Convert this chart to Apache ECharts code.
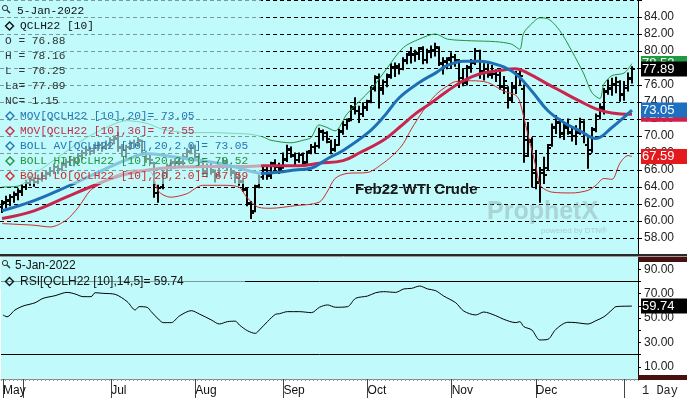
<!DOCTYPE html>
<html>
<head>
<meta charset="utf-8">
<script src="https://cdn.jsdelivr.net/npm/echarts@6/dist/echarts.min.js"></script>
<style>
html,body{margin:0;padding:0;background:#fff;}
#chart{width:687px;height:399px;}
</style>
</head>
<body>
<div id="chart"></div>
<script>
var BG = '#c0fafa';
var SANS = '"Liberation Sans", Arial, sans-serif';
var MONO = '"Liberation Mono", "Courier New", monospace';

// x axis: one slot per trading day, May 24 2021 .. Jan 5 2022, plus one empty slot
var slotCount = 159;
var monthIdx = [0, 5, 27, 48, 70, 91, 112, 133, 155];
var monthName = ['May', '', 'Jul', 'Aug', 'Sep', 'Oct', 'Nov', 'Dec', ''];
var priceTicks = [58, 84];   // first / last labelled price
var rsiLevels = [80, 20];

// daily bars (Feb22 WTI)
var opens = [61.6,62.1,62.4,62.8,63.1,
  63.4,64.0,64.5,64.8,64.6,65.0,65.3,65.6,65.9,66.3,
  66.1,66.6,66.9,67.2,67.0,67.6,68.0,68.4,68.2,68.6,68.9,68.7,
  69.0,69.5,69.8,68.7,68.3,68.7,69.2,69.0,69.4,68.0,67.3,
  66.8,63.3,64.0,65.6,66.5,66.9,66.9,66.9,67.5,68.2,
  68.6,67.5,66.9,65.8,66.4,65.8,65.4,66.6,67.0,66.4,65.6,65.2,
  64.7,63.6,62.0,61.2,64.1,65.2,66.0,65.4,66.8,66.4,
  66.4,67.3,68.4,67.7,67.2,67.8,66.9,68.2,68.7,68.8,70.5,
  70.3,69.3,68.5,69.0,70.6,71.3,72.0,73.4,73.0,72.6,
  73.3,74.1,75.6,77.0,75.4,76.3,77.2,78.0,78.0,77.9,78.9,
  79.8,79.5,79.7,80.3,79.0,80.0,80.1,80.3,78.5,78.8,
  79.2,79.3,78.8,76.8,76.3,78.1,78.6,80.0,77.6,77.9,
  77.3,77.3,77.2,75.8,75.6,74.5,75.8,77.3,75.5,69.5,69.5,
  66.0,64.5,66.0,66.2,69.0,71.0,71.6,70.3,71.2,70.4,70.0,70.5,
  71.6,69.0,68.3,70.8,72.4,73.2,75.3,75.5,76.0,76.3,75.0,75.7,76.88];
var highs = [62.4,62.9,63.1,63.4,63.8,
  64.2,64.8,65.2,65.1,65.4,65.7,65.9,66.3,66.7,66.6,
  66.9,67.3,67.6,67.5,67.9,68.3,68.8,68.7,69.0,69.3,69.2,69.4,
  69.8,70.0,70.4,69.0,68.9,69.4,69.5,69.8,69.5,68.2,67.8,
  66.9,64.2,65.9,66.7,67.2,67.3,67.4,67.8,68.5,69.0,
  68.9,67.9,67.2,66.7,66.8,66.0,66.8,67.4,67.2,66.6,65.8,65.6,
  65.0,63.9,62.3,64.2,65.4,66.3,66.4,66.9,67.2,66.8,
  68.0,68.9,68.7,68.0,68.0,68.0,68.2,69.0,69.2,70.9,70.7,
  70.5,69.5,69.6,70.8,71.7,72.0,73.6,74.5,73.5,73.9,
  74.2,75.8,77.1,77.3,76.6,77.3,78.5,78.6,78.5,79.2,79.7,
  80.4,80.1,80.4,80.5,80.2,80.6,80.9,80.5,79.2,79.2,
  79.8,79.6,79.0,77.9,78.3,79.0,80.3,80.1,78.5,78.5,
  78.3,77.8,77.5,77.0,75.8,76.3,77.6,77.9,76.0,71.6,69.8,
  68.3,66.3,67.5,69.0,71.4,72.4,72.0,71.4,72.0,71.0,71.2,72.1,
  71.8,69.8,71.0,72.6,73.8,75.6,76.6,76.8,76.9,76.5,76.4,77.4,78.16];
var lows = [61.0,61.6,61.8,62.2,62.5,
  63.0,63.7,64.2,64.1,64.4,64.7,64.9,65.3,65.6,65.6,
  65.9,66.3,66.6,66.5,66.8,67.3,67.7,67.8,68.0,68.3,68.2,68.4,
  68.7,69.1,68.2,67.6,67.4,68.4,68.6,68.8,67.8,66.9,66.8,
  62.8,62.2,63.8,65.1,66.1,66.2,66.3,66.6,67.2,67.9,
  67.2,66.4,65.4,65.2,65.5,64.6,65.2,66.2,66.0,65.3,64.5,64.2,
  63.5,61.8,60.3,61.1,63.9,64.9,64.9,65.0,66.0,65.6,
  66.2,67.0,67.5,66.6,66.9,66.5,66.8,67.9,68.0,68.6,69.5,
  69.2,67.9,68.2,68.9,70.2,70.8,71.8,72.6,71.6,72.3,
  73.0,73.9,75.3,73.3,74.9,75.8,76.8,77.0,77.3,77.8,78.5,
  78.6,78.8,79.0,78.5,78.6,79.2,79.4,78.3,77.3,77.9,
  78.0,78.2,75.7,75.9,76.0,77.5,78.4,76.8,76.6,76.9,
  76.8,76.4,75.5,75.0,73.3,74.0,75.0,76.0,66.9,67.6,64.0,
  63.8,62.2,64.4,66.0,68.8,70.3,69.8,69.6,70.2,69.4,69.0,70.2,
  69.2,66.2,68.1,70.5,72.0,72.6,74.9,74.8,75.1,74.1,74.2,75.3,76.25];
var closes = [62.2,62.5,62.8,63.2,63.5,
  64.0,64.5,64.8,64.6,65.0,65.3,65.5,65.9,66.3,66.1,
  66.6,66.9,67.2,67.0,67.6,68.0,68.4,68.2,68.6,68.9,68.7,69.0,
  69.5,69.7,68.6,68.3,68.7,69.2,69.0,69.5,68.0,67.3,67.2,
  63.3,63.9,65.6,66.5,66.8,66.9,66.8,67.4,68.1,68.6,
  67.5,66.9,65.8,66.4,66.0,65.3,66.6,67.0,66.5,65.8,65.2,64.6,
  63.8,62.1,61.0,64.0,65.2,66.0,65.3,66.6,66.3,66.1,
  67.2,68.5,67.8,67.2,67.8,66.8,68.1,68.7,68.8,70.6,70.3,
  69.7,68.4,68.9,70.5,71.3,71.8,73.2,73.0,72.6,73.4,
  74.0,75.5,76.8,75.6,76.3,77.0,78.1,78.2,77.9,78.8,79.5,
  79.6,79.8,80.2,79.0,79.9,80.0,80.5,78.6,78.7,79.0,
  79.3,78.9,76.4,76.2,78.0,78.6,80.0,77.6,77.9,77.2,
  77.3,77.2,75.9,76.5,74.2,75.6,77.2,77.1,67.7,69.3,65.6,
  64.6,65.6,65.4,68.6,71.1,71.5,70.2,70.9,70.5,70.0,70.3,71.7,
  70.2,67.9,70.7,72.3,73.4,75.2,75.6,76.1,76.4,74.8,75.6,76.74,77.89];

// studies as [bar index, value]
var ma20Pts = [[0,61.2],[8,62.4],[16,64.0],[22,65.3],[27,66.4],[31,67.2],[36,67.9],[42,67.6],
  [48,67.2],[55,66.7],[60,66.1],[65,65.6],[70,65.8],[73,66.0],[77,66.2],[81,67.3],[85,68.3],
  [91,70.3],[95,72.2],[99,74.5],[104,76.3],[108,77.4],[111,78.3],[115,78.8],[119,78.8],
  [124,78.3],[128,77.3],[132,75.3],[136,73.0],[140,71.6],[144,70.6],[148,69.7],[152,71.0],
  [155,72.2],[157,73.05]];
var ma36Pts = [[0,60.3],[8,61.2],[16,62.8],[22,64.0],[30,65.4],[40,66.2],[50,66.4],[60,66.4],
  [65,66.5],[74,66.5],[79,66.8],[85,67.1],[89,68.0],[95,69.5],[99,71.0],[103,72.6],[107,73.9],
  [111,75.3],[115,76.5],[119,77.3],[124,77.7],[128,77.9],[131,77.4],[136,76.1],[140,75.1],
  [144,74.1],[148,73.2],[152,72.7],[157,72.55]];
var bollHiPts = [[0,64.0],[4,64.1],[8,65.5],[14,67.5],[20,69.5],[26,71.0],[31,71.8],[36,71.5],
  [40,70.8],[46,70.4],[52,70.4],[58,70.3],[62,70.2],[65,69.9],[67,69.5],[72,69.2],[75,69.5],
  [77,69.8],[79,71.3],[81,71.0],[83,70.6],[86,72.6],[92,75.5],[96,78.0],[100,80.4],[104,81.4],
  [108,82.0],[111,81.4],[117,81.2],[123,81.1],[127,80.8],[129,80.2],[130,82.1],[132,83.2],
  [134,83.9],[136,83.8],[139,82.4],[142,80.0],[145,77.3],[147,75.1],[149,74.4],[150,76.1],
  [152,77.1],[155,77.4],[157,78.52]];
var bollLoPts = [[0,59.7],[4,59.6],[8,59.5],[12,59.3],[16,60.1],[19,61.6],[22,63.6],[24,64.2],
  [28,65.3],[33,66.0],[37,65.8],[39,63.5],[42,62.8],[46,63.2],[50,64.2],[55,64.2],[59,64.0],
  [61,62.8],[64,61.6],[67,61.5],[73,61.8],[79,62.2],[81,63.4],[83,65.0],[86,65.6],[91,65.7],
  [95,66.8],[98,68.0],[100,69.1],[102,70.8],[105,73.0],[108,74.8],[111,75.9],[113,76.4],
  [117,76.5],[121,76.3],[125,75.3],[128,74.8],[129,74.1],[131,70.3],[133,66.5],[134,64.3],
  [135,63.8],[137,63.4],[142,63.3],[146,63.6],[148,64.2],[150,65.0],[152,64.9],[154,66.8],
  [156,67.7],[157,67.59]];
var rsiPts = [[0,52.5],[1,51.0],[3,56.6],[5,59.8],[8,62.5],[10,66.1],[13,68.3],[16,71.0],[18,69.7],
  [20,67.5],[22,67.5],[23,70.7],[25,70.2],[28,69.4],[31,63.4],[33,56.6],[34,59.3],[36,58.7],
  [37,55.2],[39,48.4],[40,46.2],[42,46.2],[44,51.6],[47,56.0],[49,53.3],[52,48.4],[54,45.1],
  [56,47.0],[58,47.4],[59,44.3],[61,39.6],[63,37.4],[64,40.2],[66,47.0],[68,53.0],[69,53.5],
  [71,55.2],[74,55.2],[77,54.4],[79,58.8],[81,60.7],[83,58.8],[86,59.3],[88,66.1],[91,68.0],
  [93,70.7],[95,71.6],[98,71.0],[100,73.8],[102,74.3],[104,76.2],[106,73.8],[108,72.4],
  [110,68.0],[113,62.5],[115,55.7],[118,52.5],[120,54.9],[123,51.9],[125,48.9],[128,46.2],
  [129,47.0],[130,42.9],[132,40.2],[134,32.0],[136,32.5],[138,40.7],[141,46.5],[143,46.2],
  [146,45.1],[148,47.8],[150,51.0],[152,56.6],[153,59.3],[157,59.74]];

var last = closes.length - 1;
function lastVal(pts){ return pts[pts.length - 1][1]; }

var cats = [];
for (var i = 0; i < slotCount; i++) { cats.push(String(i)); }
var ohlcRows = closes.map(function(c, i){ return [i, opens[i], highs[i], lows[i], c]; });

// OHLC bar: vertical high-low, open tick left, close tick right
function renderOhlc(params, api) {
    var i = api.value(0);
    var h = api.coord([i, api.value(2)]);
    var l = api.coord([i, api.value(3)]);
    var o = api.coord([i, api.value(1)]);
    var c = api.coord([i, api.value(4)]);
    var x = Math.round(h[0]);
    var st = {stroke: '#000', lineWidth: 2};
    return {type: 'group', children: [
        {type: 'line', shape: {x1: x, y1: h[1] - 0.5, x2: x, y2: l[1] + 0.5}, style: st},
        {type: 'line', shape: {x1: x - 3, y1: Math.round(o[1]), x2: x, y2: Math.round(o[1])}, style: st},
        {type: 'line', shape: {x1: x, y1: Math.round(c[1]), x2: x + 3, y2: Math.round(c[1])}, style: st}
    ]};
}

// value box on the right axis; z keeps later boxes (and their text) on top
function valueBox(idx, val, color, z){
    return {
        z: z,
        symbol: 'rect', symbolSize: [46, 15], symbolOffset: [32, 0], silent: true,
        itemStyle: {color: color},
        label: {show: true, position: 'insideLeft', distance: 1, color: '#fff', fontSize: 13, fontFamily: SANS,
            formatter: function(p){ return Number(p.value).toFixed(2); }},
        data: [{coord: [idx, val], value: val}]
    };
}

function isMonthTick(index){ return monthIdx.indexOf(index) >= 0; }
function isMonthLabel(index){
    var k = monthIdx.indexOf(index);
    return k >= 0 && monthName[k] !== '';
}

// legend blocks (drawn as graphic text)
function diamond(x, y, color){
    return {type: 'polygon', z: 11, shape: {points: [[x, y - 4], [x + 4, y], [x, y + 4], [x - 4, y]]},
        style: {fill: 'none', stroke: color, lineWidth: 1.4}};
}
function txt(x, y, s, color, font){
    return {type: 'text', z: 11, style: {x: x, y: y, text: s, fill: color, font: font, verticalAlign: 'middle'}};
}
function magnifier(x, y){
    return [
        {type: 'circle', z: 11, shape: {cx: x, cy: y, r: 2.6}, style: {fill: 'none', stroke: '#333', lineWidth: 1}},
        {type: 'line', z: 11, shape: {x1: x + 2, y1: y + 2, x2: x + 5, y2: y + 5}, style: {stroke: '#333', lineWidth: 1.5}}
    ];
}

var monoFont = '11.2px ' + MONO;
var sansFont = '12px ' + SANS;
var nc = closes[last] - closes[last - 1];
var blue = '#2474b8', red = '#c62a4a', green = '#23923f', lored = '#d22a2a';

var g = [];
// translucent panels behind the legends
g.push({type: 'rect', z: 10, shape: {x: 0, y: 0, width: 261, height: 184}, style: {fill: 'rgba(192,250,250,0.62)'}});
g.push({type: 'rect', z: 10, shape: {x: 0, y: 258, width: 245, height: 31}, style: {fill: 'rgba(192,250,250,0.62)'}});
g = g.concat(magnifier(5, 8));
g.push(txt(17, 11, '5-Jan-2022', '#111', monoFont));
g.push(diamond(9.5, 26, '#111'));
g.push(txt(20, 26, 'QCLH22 [10]', '#111', monoFont));
g.push(txt(5, 41.5, 'O = ' + opens[last].toFixed(2), '#333', monoFont));
g.push(txt(5, 56, 'H = ' + highs[last].toFixed(2), '#333', monoFont));
g.push(txt(5, 71, 'L = ' + lows[last].toFixed(2), '#333', monoFont));
g.push(txt(5, 86, 'La= ' + closes[last].toFixed(2), '#333', monoFont));
g.push(txt(5, 101, 'NC= ' + nc.toFixed(2), '#333', monoFont));
var studyRows = [
    ['MOV[QCLH22 [10],20]= ' + lastVal(ma20Pts).toFixed(2), blue],
    ['MOV[QCLH22 [10],36]= ' + lastVal(ma36Pts).toFixed(2), red],
    ['BOLL AV[QCLH22 [10],20,2.0]= ' + lastVal(ma20Pts).toFixed(2), blue],
    ['BOLL HI[QCLH22 [10],20,2.0]= ' + lastVal(bollHiPts).toFixed(2), green],
    ['BOLL LO[QCLH22 [10],20,2.0]= ' + lastVal(bollLoPts).toFixed(2), lored]
];
for (var r = 0; r < studyRows.length; r++) {
    var yy = 116 + r * 15;
    g.push(diamond(10, yy, studyRows[r][1]));
    g.push(txt(20, yy, studyRows[r][0], studyRows[r][1], monoFont));
}
// RSI legend
g = g.concat(magnifier(5, 263));
g.push(txt(15, 265.5, '5-Jan-2022', '#111', sansFont));
g.push(diamond(9.5, 281.5, '#111'));
g.push(txt(20, 281.5, 'RSI[QCLH22 [10],14,5]= ' + lastVal(rsiPts).toFixed(2), '#111', sansFont));
// title & watermark
g.push({type: 'text', z: 3, style: {x: 355, y: 190, text: 'Feb22 WTI Crude', fill: '#1a1a1a',
    font: 'bold 15px ' + SANS, verticalAlign: 'middle'}});
g.push({type: 'text', z: 1, style: {x: 487, y: 212, text: 'ProphetX', fill: 'rgba(150,175,175,0.5)',
    font: 'bold 25px ' + SANS, verticalAlign: 'middle'}});
g.push({type: 'text', z: 1, style: {x: 607, y: 231, text: 'powered by DTN\u00ae', fill: 'rgba(150,175,175,0.6)',
    font: '8px ' + SANS, verticalAlign: 'middle', align: 'right'}});
// panel separator and right-axis trims
g.push({type: 'rect', z: 12, shape: {x: 0, y: 254, width: 687, height: 2}, style: {fill: '#2a2a2a'}});
g.push({type: 'line', z: 12, shape: {x1: 0, y1: 256.5, x2: 687, y2: 256.5}, style: {stroke: '#9a9a9a', lineWidth: 1}});
g.push({type: 'rect', z: 12, shape: {x: 638, y: 257, width: 49, height: 5}, style: {fill: '#4a1010'}});
g.push({type: 'rect', z: 12, shape: {x: 638, y: 375, width: 49, height: 5}, style: {fill: '#4a1010'}});
g.push(txt(642, 391, '1 Day', '#222', '12px ' + MONO));

var chart = echarts.init(document.getElementById('chart'), null, {renderer: 'canvas'});
var option = {
    animation: false,
    backgroundColor: '#fff',
    grid: [
        {left: 0, right: 49, top: -1, height: 256, show: true, backgroundColor: BG, borderWidth: 0},
        {left: 0, right: 49, top: 257, height: 122, show: true, backgroundColor: BG, borderWidth: 0}
    ],
    xAxis: [
        {type: 'category', gridIndex: 0, data: cats, show: false},
        {type: 'category', gridIndex: 1, data: cats, position: 'bottom',
            axisLine: {show: true, lineStyle: {color: '#888'}},
            axisTick: {show: true, alignWithLabel: true, length: 19, interval: function(i){ return isMonthTick(i); },
                lineStyle: {color: '#444'}},
            axisLabel: {show: true, interval: function(i){ return isMonthLabel(i); }, align: 'left', margin: 6,
                color: '#111', fontSize: 12, fontFamily: SANS,
                formatter: function(v, i){ var k = monthIdx.indexOf(i); return k >= 0 ? monthName[k] : ''; }},
            splitLine: {show: false}},
        {type: 'category', gridIndex: 1, data: cats, position: 'bottom', offset: 0,
            axisLine: {show: false}, axisLabel: {show: false}, splitLine: {show: false},
            axisTick: {show: true, interval: 0, length: 2, lineStyle: {color: '#9a9a9a'}}}
    ],
    yAxis: [
        {type: 'value', gridIndex: 0, position: 'right', min: 56, max: 86, interval: 2,
            axisLine: {show: true, lineStyle: {color: '#000'}},
            axisTick: {show: true, length: 4, lineStyle: {color: '#000'}},
            axisLabel: {margin: 6, color: '#222', fontSize: 12, fontFamily: SANS,
                formatter: function(v){ return (v >= priceTicks[0] && v <= priceTicks[1]) ? v.toFixed(2) : ''; }},
            splitLine: {show: true, lineStyle: {color: '#000', width: 1, type: [4, 3]}}},
        {type: 'value', gridIndex: 1, position: 'right', min: 0, max: 100, interval: 10,
            axisLine: {show: true, lineStyle: {color: '#000'}},
            axisTick: {show: true, length: 3, lineStyle: {color: '#000'}},
            axisLabel: {margin: 6, color: '#222', fontSize: 12, fontFamily: SANS,
                formatter: function(v){ return (v % 20 === 10) ? v.toFixed(2) : ''; }},
            splitLine: {show: false}}
    ],
    series: [
        {name: 'BOLL LO', type: 'line', xAxisIndex: 0, yAxisIndex: 0, data: bollLoPts, symbol: 'none', smooth: 0.3,
            lineStyle: {color: lored, width: 1}, markPoint: valueBox(157, lastVal(bollLoPts), '#e3191e', 20)},
        {name: 'BOLL HI', type: 'line', xAxisIndex: 0, yAxisIndex: 0, data: bollHiPts, symbol: 'none', smooth: 0.3,
            lineStyle: {color: green, width: 1}, markPoint: valueBox(157, lastVal(bollHiPts), '#1f9a40', 21)},
        {name: 'MOV36', type: 'line', xAxisIndex: 0, yAxisIndex: 0, data: ma36Pts, symbol: 'none', smooth: 0.4,
            lineStyle: {color: '#c8264c', width: 3}, markPoint: valueBox(157, lastVal(ma36Pts), '#d21f48', 22)},
        {name: 'MOV20', type: 'line', xAxisIndex: 0, yAxisIndex: 0, data: ma20Pts, symbol: 'none', smooth: 0.4,
            lineStyle: {color: '#1f6fb6', width: 3}, markPoint: valueBox(157, lastVal(ma20Pts), '#1f6fc0', 23)},
        {name: 'QCLH22', type: 'custom', xAxisIndex: 0, yAxisIndex: 0, data: ohlcRows, renderItem: renderOhlc,
            encode: {x: 0, y: [1, 2, 3, 4]}, z: 3, markPoint: valueBox(157, closes[last], '#000', 24)},
        {name: 'RSI', type: 'line', xAxisIndex: 1, yAxisIndex: 1, data: rsiPts, symbol: 'none', smooth: 0.3,
            lineStyle: {color: '#000', width: 1},
            markLine: {silent: true, symbol: ['none', 'none'], label: {show: false},
                lineStyle: {color: '#000', width: 1, type: 'solid'},
                data: rsiLevels.map(function(v){ return {yAxis: v}; })},
            markPoint: valueBox(157, lastVal(rsiPts), '#000', 24)}
    ],
    graphic: g
};
chart.setOption(option);
</script>
</body>
</html>
